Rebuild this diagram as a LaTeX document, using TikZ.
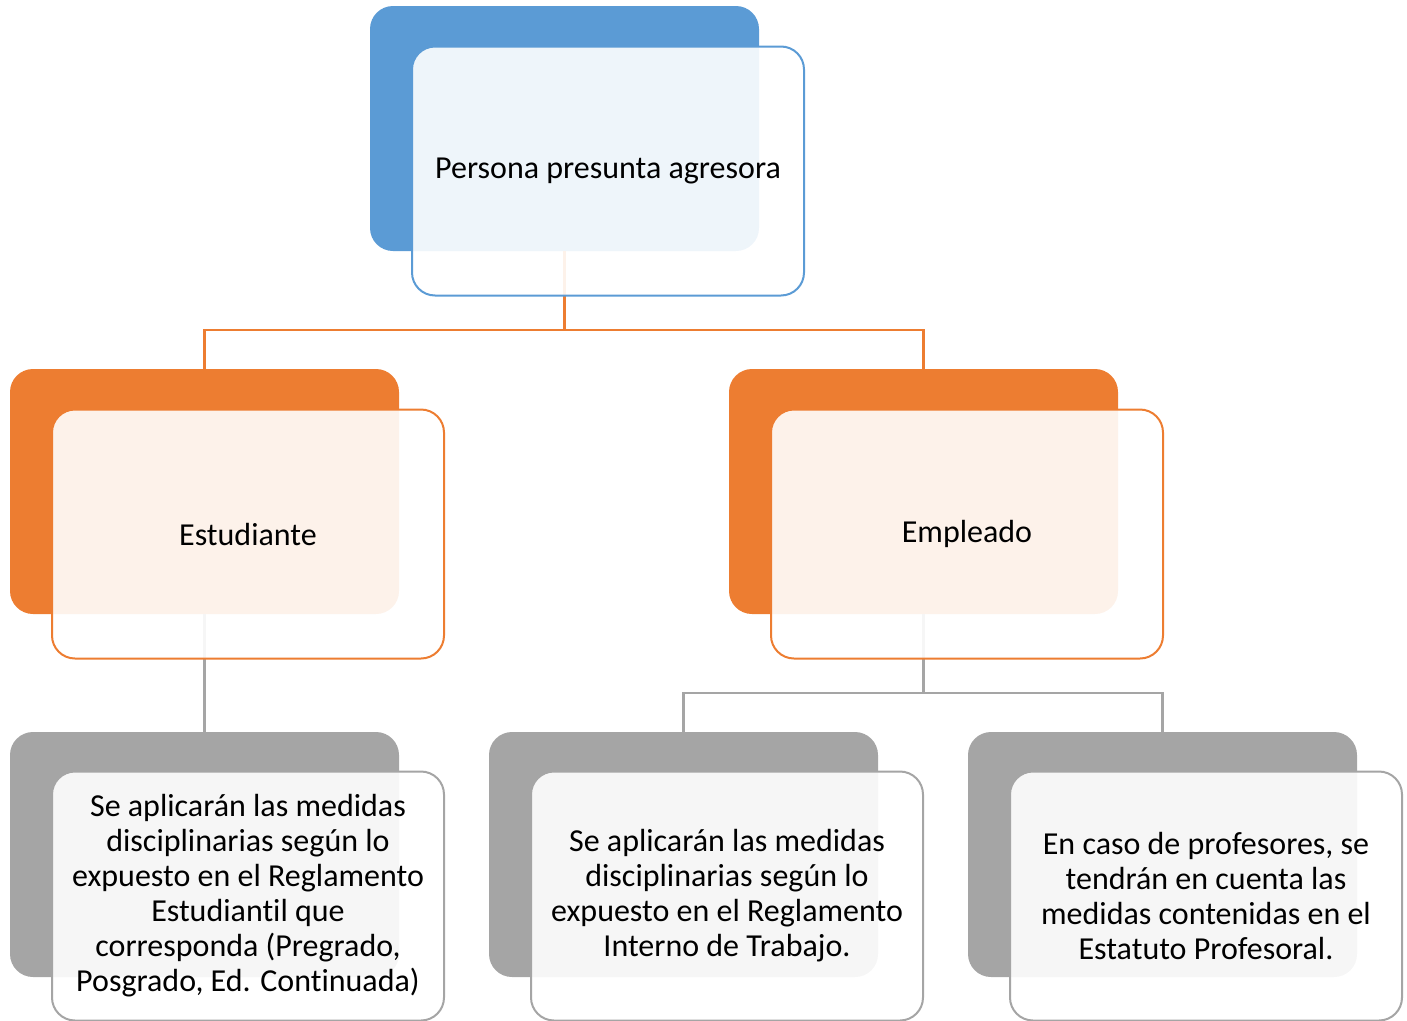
\documentclass[tikz,border=0pt]{standalone}
\usepackage{fontspec}
\setmainfont{Carlito}[Ligatures=NoCommon]
\usepackage{tikz}

\definecolor{blueacc}{HTML}{5B9BD5}
\definecolor{orangeacc}{HTML}{ED7D31}
\definecolor{grayacc}{HTML}{A5A5A5}

\begin{document}
\begin{tikzpicture}[
        x = 1pt, y = -1pt,
        back/.style = {rectangle, rounded corners=23pt, minimum width=389pt, minimum height=245pt, inner sep=0pt},
        front/.style = {rectangle, rounded corners=23pt, minimum width=392pt, minimum height=249pt,
                        draw, line width=2pt, fill=white, fill opacity=0.9, text opacity=1,
                        align=center, font=\fontsize{32}{35}\selectfont},
        link/.style = {line width=2.2pt},
      ]

      \useasboundingbox (0,0) rectangle (1407,1020);

      % back cards
      \node[back, fill=blueacc] (topb) at (564.5,128.5) {};
      \node[back, fill=orangeacc] (estb) at (204.5,491.5) {};
      \node[back, fill=orangeacc] (empb) at (923.5,491.5) {};
      \node[back, fill=grayacc] (reb) at (204.5,854.5) {};
      \node[back, fill=grayacc] (rib) at (683.5,854.5) {};
      \node[back, fill=grayacc] (epb) at (1162.5,854.5) {};

      % connectors
      \draw[link, orangeacc] (topb.south) -- +(0,79) -| (estb.north);
      \draw[link, orangeacc] (topb.south) -- +(0,79) -| (empb.north);
      \draw[link, grayacc] (estb.south) -- (reb.north);
      \draw[link, grayacc] (empb.south) -- +(0,79) -| (rib.north);
      \draw[link, grayacc] (empb.south) -- +(0,79) -| (epb.north);

      % front cards
      \node[front, draw=blueacc] (top) at (608,171) {Persona presunta agresora};
      \node[front, draw=orangeacc] (est) at (248,534) {Estudiante};
      \node[front, draw=orangeacc] (emp) at (967,534) {Empleado};
      \node[front, draw=grayacc] (re) at (248,896)
        {Se aplicarán las medidas\\disciplinarias según lo\\expuesto en el Reglamento\\Estudiantil que\\corresponda (Pregrado,\\Posgrado, Ed. Continuada)};
      \node[front, draw=grayacc] (ri) at (727,896)
        {Se aplicarán las medidas\\disciplinarias según lo\\expuesto en el Reglamento\\Interno de Trabajo.};
      \node[front, draw=grayacc] (ep) at (1206,896)
        {En caso de profesores, se\\tendrán en cuenta las\\medidas contenidas en el\\Estatuto Profesoral.};

    \end{tikzpicture}
\end{document}
